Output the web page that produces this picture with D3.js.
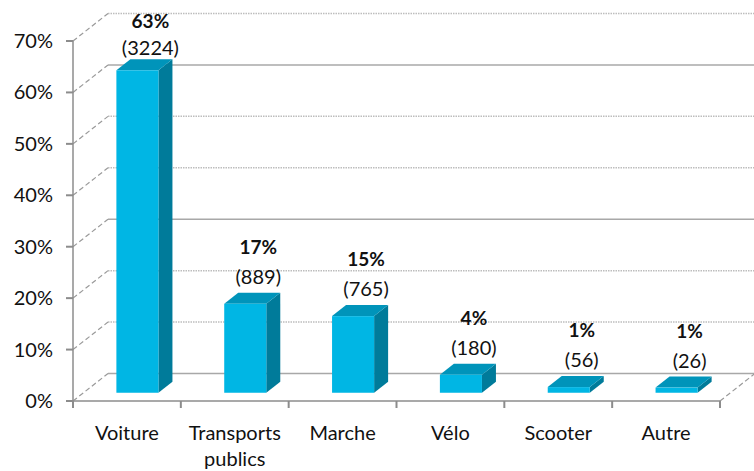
<!DOCTYPE html>
<html>
<head>
<meta charset="utf-8">
<script src="https://cdn.jsdelivr.net/npm/d3@7"></script>
<style>
  html, body { margin: 0; padding: 0; background: #fff; }
  svg { display: block; font-family: Lato, "Open Sans", "DejaVu Sans", sans-serif; }
</style>
</head>
<body>
<svg id="chart" width="754" height="471"></svg>
<script>
// ---- data ----
const categories = ["Voiture", "Transports publics", "Marche", "Vélo", "Scooter", "Autre"];
const percentValues = [62.7, 17.3, 14.9, 3.5, 1.1, 1.0];
const percentLabels = ["63%", "17%", "15%", "4%", "1%", "1%"];
const counts = [3224, 889, 765, 180, 56, 26];
const yTicks = [0, 10, 20, 30, 40, 50, 60, 70];

// ---- layout ----
const svg = d3.select("#chart");
const x0 = 73, x1 = 720, yBottom = 401, yTop = 41;
const D = { x: 35, y: -27.5 };          // full depth vector
const barFront = 0.3, barDepth = 0.4;   // bar position in depth (fractions)

const x = d3.scaleBand().domain(categories).range([x0, x1]).padding(0);
const y = d3.scaleLinear().domain([0, 70]).range([yBottom, yTop]);

const gridColor = "#a8a8a8";
const axisColor = "#8c8c8c";

// back wall gridlines
const g = svg.append("g");
yTicks.forEach(v => {
  const solid = v % 30 === 0;
  g.append("line")
    .attr("x1", x0 + D.x).attr("x2", x1 + D.x)
    .attr("y1", y(v) + D.y).attr("y2", y(v) + D.y)
    .attr("stroke", solid ? gridColor : "#bdbdbd")
    .attr("stroke-width", 1.5)
    .attr("stroke-dasharray", solid ? null : "1.5,1");
  // side wall diagonals
  g.append("line")
    .attr("x1", x0).attr("y1", y(v))
    .attr("x2", x0 + D.x).attr("y2", y(v) + D.y)
    .attr("stroke", "#9a9a9a")
    .attr("stroke-width", 1.2)
    .attr("stroke-dasharray", "5,3");
});
// right floor diagonal
g.append("line")
  .attr("x1", x1).attr("y1", y(0))
  .attr("x2", x1 + D.x).attr("y2", y(0) + D.y)
  .attr("stroke", "#9a9a9a").attr("stroke-width", 1.2)
  .attr("stroke-dasharray", "5,3");

// axes
const axisG = svg.append("g");
axisG.append("line")
  .attr("x1", x0).attr("x2", x0).attr("y1", y(70)).attr("y2", y(0))
  .attr("stroke", axisColor).attr("stroke-width", 1.5);
axisG.append("line")
  .attr("x1", x0).attr("x2", x1).attr("y1", y(0)).attr("y2", y(0))
  .attr("stroke", axisColor).attr("stroke-width", 1.5);

yTicks.forEach(v => {
  axisG.append("line")
    .attr("x1", x0 - 7).attr("x2", x0).attr("y1", y(v)).attr("y2", y(v))
    .attr("stroke", axisColor).attr("stroke-width", 2);
  axisG.append("text")
    .attr("x", 53).attr("y", y(v) + 7)
    .attr("text-anchor", "end")
    .attr("font-size", 20).attr("fill", "#111")
    .text(v + "%");
});

// x ticks at band boundaries
const bounds = categories.map(c => x(c)).concat([x1]);
bounds.forEach(bx => {
  axisG.append("line")
    .attr("x1", bx).attr("x2", bx).attr("y1", y(0)).attr("y2", y(0) + 7)
    .attr("stroke", axisColor).attr("stroke-width", 2);
});

// category labels
categories.forEach(c => {
  const cx = x(c) + x.bandwidth() / 2;
  const words = c === "Transports publics" ? ["Transports", "publics"] : [c];
  const t = axisG.append("text")
    .attr("text-anchor", "middle")
    .attr("font-size", 20).attr("fill", "#111");
  words.forEach((w, i) => {
    t.append("tspan").attr("x", cx).attr("y", 440 + i * 26).text(w);
  });
});

// bars
const barW = x.bandwidth() * 0.39;
const fx = D.x * barFront, fy = D.y * barFront;
const dx = D.x * barDepth, dy = D.y * barDepth;
const colFront = "#00b6e4", colSide = "#007b9a", colTop = "#0094ba";

const bars = svg.append("g");
categories.forEach((c, i) => {
  const cx = x(c) + x.bandwidth() / 2 + fx;
  const l = cx - barW / 2, r = cx + barW / 2;
  const top = y(percentValues[i]) + fy;
  const bot = y(0) + fy;
  bars.append("polygon")
    .attr("points", [[r, top], [r + dx, top + dy], [r + dx, bot + dy], [r, bot]].map(p => p.join(",")).join(" "))
    .attr("fill", colSide);
  bars.append("polygon")
    .attr("points", [[l, top], [r, top], [r + dx, top + dy], [l + dx, top + dy]].map(p => p.join(",")).join(" "))
    .attr("fill", colTop);
  bars.append("rect")
    .attr("x", l).attr("y", top).attr("width", barW).attr("height", bot - top)
    .attr("fill", colFront);

  const lx = cx + 13;
  let pctY = top - 50, cntY = top - 20;
  if (pctY < 28) { pctY = 28; cntY = 55; }
  bars.append("text")
    .attr("x", lx).attr("y", pctY)
    .attr("text-anchor", "middle").attr("font-size", 19).attr("font-weight", "bold")
    .attr("fill", "#111")
    .text(percentLabels[i]);
  bars.append("text")
    .attr("x", lx).attr("y", cntY)
    .attr("text-anchor", "middle").attr("font-size", 20)
    .attr("fill", "#111")
    .text("(" + counts[i] + ")");
});
</script>
</body>
</html>
